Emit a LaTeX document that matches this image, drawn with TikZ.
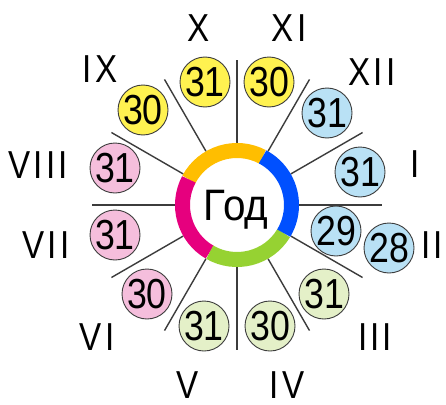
\documentclass[tikz,border=0pt]{standalone}
\usepackage{fontspec}
\setmainfont{Liberation Sans}
\newfontfamily\numfont[FakeStretch=0.85]{Liberation Sans}
\newfontfamily\romfont[FakeStretch=0.85,LetterSpace=8]{Liberation Sans}
\newfontfamily\godfont[FakeStretch=0.92]{Liberation Sans}
\definecolor{ringO}{RGB}{255,190,0}
\definecolor{ringB}{RGB}{0,80,255}
\definecolor{ringG}{RGB}{150,210,50}
\definecolor{ringM}{RGB}{230,0,126}
\definecolor{fY}{RGB}{255,242,80}
\definecolor{fB}{RGB}{185,225,245}
\definecolor{fG}{RGB}{228,240,200}
\definecolor{fP}{RGB}{245,190,220}
\definecolor{spk}{RGB}{60,60,60}
\tikzset{
  spoke/.style={draw=spk,line width=1.4pt},
  ringseg/.style={line width=15pt},
  mc/.style={circle,draw=spk,line width=0.9pt,minimum size=50pt,inner sep=0pt,
    font=\numfont\fontsize{42}{42}\selectfont},
  rom/.style={inner sep=0pt,font=\romfont\fontsize{39}{39}\selectfont},
}
\begin{document}
\begin{tikzpicture}[x=1pt,y=1pt]
\useasboundingbox[fill=white] (0,0) rectangle (446,-404);
\coordinate (c) at (237,-205);
% spokes
\foreach \a in {0,30,...,330}
  \draw[spoke,shift={(c)}] (\a:62) -- (\a:145);
% ring
\draw[ringseg,ringO,shift={(c)}] (62:54.5) arc[start angle=62,end angle=152,radius=54.5];
\draw[ringseg,ringM,shift={(c)}] (152:54.5) arc[start angle=152,end angle=240,radius=54.5];
\draw[ringseg,ringG,shift={(c)}] (240:54.5) arc[start angle=240,end angle=329,radius=54.5];
\draw[ringseg,ringB,shift={(c)}] (-31:54.5) arc[start angle=-31,end angle=62,radius=54.5];
\node[anchor=base,inner sep=0pt,font=\godfont\fontsize{44}{44}\selectfont] (god) at (236,-220) {Год};
% month circles
\node[mc,fill=fY] (d10) at (205,-82) {31};
\node[mc,fill=fY] (d11) at (269,-82) {30};
\node[mc,fill=fY] (d9) at (143,-110) {30};
\node[mc,fill=fB] (d12) at (327,-113) {31};
\node[mc,fill=fB] (d1) at (360,-172) {31};
\node[mc,fill=fB] (d2a) at (336,-231) {29};
\node[mc,fill=fB] (d2b) at (389,-248) {28};
\node[mc,fill=fG] (d3) at (324,-294) {31};
\node[mc,fill=fG] (d4) at (270,-326) {30};
\node[mc,fill=fG] (d5) at (204,-326) {31};
\node[mc,fill=fP] (d6) at (147,-294) {30};
\node[mc,fill=fP] (d7) at (115,-235) {31};
\node[mc,fill=fP] (d8) at (115,-168) {31};
% roman numerals
\node[rom] (r10) at (199,-28) {X};
\node[rom] (r11) at (289,-28) {XI};
\node[rom] (r12) at (372,-72) {XII};
\node[rom] (r9) at (100,-69) {IX};
\node[rom] (r1) at (415,-164) {I};
\node[rom] (r2) at (432,-245) {II};
\node[rom] (r3) at (375,-337) {III};
\node[rom] (r4) at (287,-385) {IV};
\node[rom] (r5) at (188,-385) {V};
\node[rom] (r6) at (97,-337) {VI};
\node[rom] (r7) at (46,-245) {VII};
\node[rom] (r8) at (38,-165) {VIII};
\end{tikzpicture}
\end{document}
